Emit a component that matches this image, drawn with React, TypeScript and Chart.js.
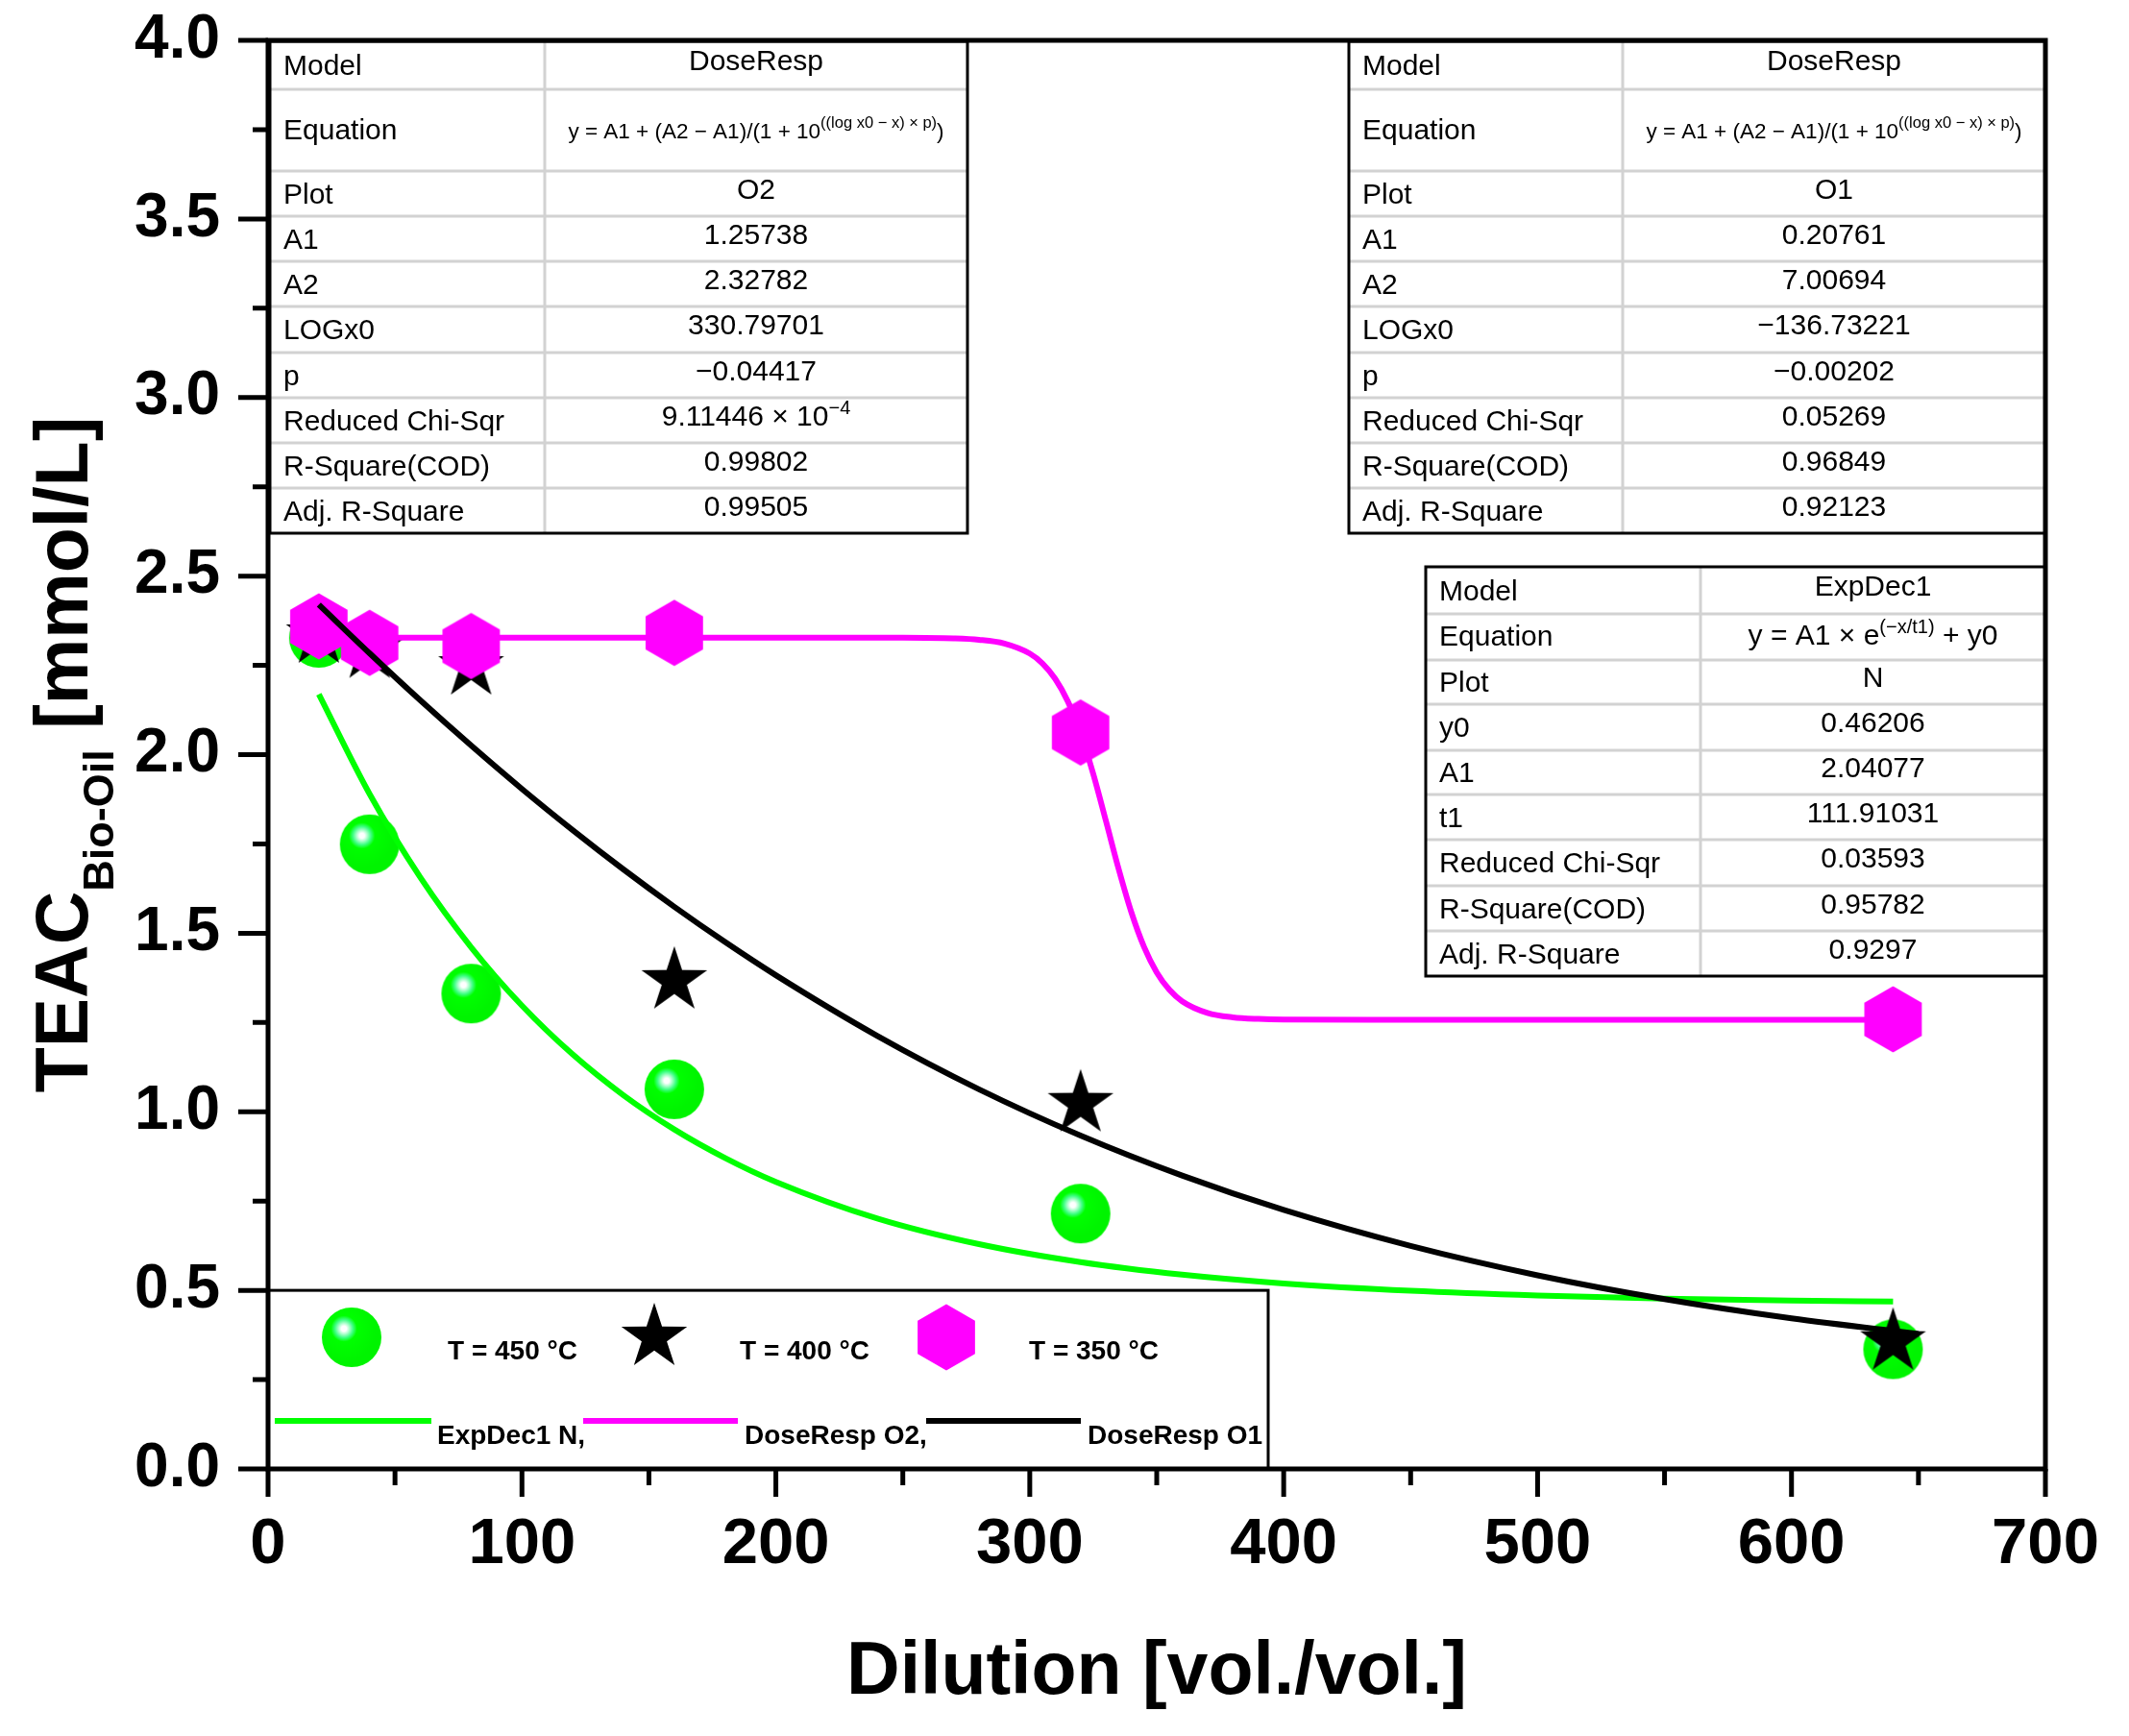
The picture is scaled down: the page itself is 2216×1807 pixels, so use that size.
import React, { useEffect, useRef } from "react";
import { Chart, registerables } from "chart.js";

Chart.register(...registerables);

// ---------- data ----------
const dilution = [20, 40, 80, 160, 320, 640];
const teac450 = [2.327, 1.749, 1.331, 1.063, 0.715, 0.335];
const teac400 = [2.335, 2.293, 2.246, 1.367, 1.023, 0.356];
const teac350 = [2.359, 2.313, 2.304, 2.341, 2.062, 1.259];

// fitted curves (ExpDec1 N, DoseResp O1, DoseResp O2)
const fitNx = [20, 40, 60, 80, 100, 120, 140, 160, 180, 200, 240, 280, 320, 360, 400, 450, 500, 550, 600, 640];
const fitNy = [2.1689, 1.8896, 1.656, 1.4606, 1.2972, 1.1605, 1.0462, 0.9506, 0.8707, 0.8038, 0.7011, 0.6293, 0.579, 0.5439, 0.5193, 0.4987, 0.4855, 0.477, 0.4716, 0.4688];
const fitO1x = [20, 40, 60, 80, 100, 120, 140, 160, 180, 200, 240, 280, 320, 360, 400, 450, 500, 550, 600, 650];
const fitO1y = [2.4199, 2.2837, 2.1518, 2.0254, 1.904, 1.7886, 1.6785, 1.5741, 1.4753, 1.3823, 1.2123, 1.063, 0.9334, 0.8214, 0.7251, 0.6244, 0.5421, 0.4754, 0.4216, 0.3783];
const fitO2x = [20, 100, 200, 250, 270, 280, 290, 300, 305, 310, 315, 320, 325, 330, 335, 340, 345, 350, 355, 360, 370, 380, 390, 400, 450, 500, 550, 600, 640];
const fitO2y = [2.3278, 2.3278, 2.3278, 2.3275, 2.3256, 2.3217, 2.3112, 2.2831, 2.2554, 2.2126, 2.149, 2.06, 1.946, 1.8143, 1.6799, 1.5589, 1.4617, 1.3903, 1.3415, 1.3096, 1.2769, 1.2645, 1.26, 1.2583, 1.2574, 1.2574, 1.2574, 1.2574, 1.2574];

const xTickMin = 0;
const xTickMax = 700;
const yTickMin = 0;
const yTickMax = 4;

const seriesLabels = ["T = 450 °C", "T = 400 °C", "T = 350 °C"];
const fitLabels = ["ExpDec1 N,", "DoseResp O2,", "DoseResp O1"];

// fit report tables
const doseRespLabels = ["Model", "Equation", "Plot", "A1", "A2", "LOGx0", "p", "Reduced Chi-Sqr", "R-Square(COD)", "Adj. R-Square"];
const doseRespEq = "y = A1 + (A2 − A1)/(1 + 10^{((log x0 − x) × p)})";
const tableO2Values = ["DoseResp", doseRespEq, "O2", "1.25738", "2.32782", "330.79701", "−0.04417", "9.11446 × 10^{−4}", "0.99802", "0.99505"];
const tableO1Values = ["DoseResp", doseRespEq, "O1", "0.20761", "7.00694", "−136.73221", "−0.00202", "0.05269", "0.96849", "0.92123"];
const expDecLabels = ["Model", "Equation", "Plot", "y0", "A1", "t1", "Reduced Chi-Sqr", "R-Square(COD)", "Adj. R-Square"];
const tableNValues = ["ExpDec1", "y = A1 × e^{(−x/t1)} + y0", "N", "0.46206", "2.04077", "111.91031", "0.03593", "0.95782", "0.9297"];

const FONT = '"Liberation Sans", Arial, sans-serif';
const GREEN = "#00ff00";
const MAGENTA = "#ff00ff";

// ---------- marker images ----------
function makeBall(): HTMLCanvasElement {
  const c = document.createElement("canvas");
  c.width = 64;
  c.height = 64;
  const g = c.getContext("2d")!;
  const grad = g.createRadialGradient(24, 23, 0, 24, 23, 34);
  grad.addColorStop(0, "#ffffff");
  grad.addColorStop(0.08, "#ffffff");
  grad.addColorStop(0.16, "#b4ffd2");
  grad.addColorStop(0.28, "#3cff82");
  grad.addColorStop(0.4, "#00ff00");
  grad.addColorStop(1, "#00f400");
  g.fillStyle = grad;
  g.beginPath();
  g.arc(32, 32, 31, 0, Math.PI * 2);
  g.fill();
  return c;
}

function makeStar(): HTMLCanvasElement {
  const c = document.createElement("canvas");
  c.width = 76;
  c.height = 76;
  const g = c.getContext("2d")!;
  const R = 36;
  const r = R * 0.382;
  g.fillStyle = "#000";
  g.beginPath();
  for (let i = 0; i < 10; i++) {
    const a = -Math.PI / 2 + (i * Math.PI) / 5;
    const rad = i % 2 === 0 ? R : r;
    const px = 38 + rad * Math.cos(a);
    const py = 38 + rad * Math.sin(a);
    if (i === 0) g.moveTo(px, py);
    else g.lineTo(px, py);
  }
  g.closePath();
  g.fill();
  return c;
}

function makeHex(): HTMLCanvasElement {
  const c = document.createElement("canvas");
  c.width = 64;
  c.height = 72;
  const g = c.getContext("2d")!;
  const R = 34.5;
  g.fillStyle = MAGENTA;
  g.beginPath();
  for (let i = 0; i < 6; i++) {
    const a = -Math.PI / 2 + (i * Math.PI) / 3;
    const px = 32 + R * Math.cos(a);
    const py = 36 + R * Math.sin(a);
    if (i === 0) g.moveTo(px, py);
    else g.lineTo(px, py);
  }
  g.closePath();
  g.fill();
  return c;
}

// ---------- rich text (superscripts) ----------
type Seg = { t: string; sup: boolean };
function parseRich(s: string): Seg[] {
  const out: Seg[] = [];
  let i = 0;
  while (i < s.length) {
    const k = s.indexOf("^{", i);
    if (k < 0) {
      out.push({ t: s.slice(i), sup: false });
      break;
    }
    if (k > i) out.push({ t: s.slice(i, k), sup: false });
    let depth = 1;
    let j = k + 2;
    while (j < s.length && depth > 0) {
      if (s[j] === "{") depth++;
      else if (s[j] === "}") depth--;
      if (depth > 0) j++;
    }
    out.push({ t: s.slice(k + 2, j), sup: true });
    i = j + 1;
  }
  return out;
}

function drawRich(
  ctx: CanvasRenderingContext2D,
  text: string,
  x: number,
  baseline: number,
  size: number,
  supSize: number,
  supRise: number,
  align: "left" | "center"
) {
  const segs = parseRich(text);
  const widths = segs.map((sg) => {
    ctx.font = `${sg.sup ? supSize : size}px ${FONT}`;
    return ctx.measureText(sg.t).width;
  });
  const total = widths.reduce((a, b) => a + b, 0);
  let cx = align === "center" ? x - total / 2 : x;
  ctx.textAlign = "left";
  ctx.textBaseline = "alphabetic";
  segs.forEach((sg, i) => {
    ctx.font = `${sg.sup ? supSize : size}px ${FONT}`;
    ctx.fillText(sg.t, cx, sg.sup ? baseline - supRise : baseline);
    cx += widths[i];
  });
}

type TableGeo = { x0: number; xs: number; x1: number; rows: number[]; eqSize: number; eqSup: number; eqRise: number };

function drawTable(ctx: CanvasRenderingContext2D, geo: TableGeo, labels: string[], values: string[]) {
  const { x0, xs, x1, rows } = geo;
  const top = rows[0];
  const bot = rows[rows.length - 1];
  ctx.save();
  ctx.fillStyle = "#ffffff";
  ctx.fillRect(x0, top, x1 - x0, bot - top);
  ctx.strokeStyle = "#d2d2d2";
  ctx.lineWidth = 3;
  ctx.beginPath();
  for (let i = 1; i < rows.length - 1; i++) {
    ctx.moveTo(x0, rows[i]);
    ctx.lineTo(x1, rows[i]);
  }
  ctx.moveTo(xs, top);
  ctx.lineTo(xs, bot);
  ctx.stroke();
  ctx.strokeStyle = "#000";
  ctx.lineWidth = 3;
  ctx.strokeRect(x0, top, x1 - x0, bot - top);
  ctx.fillStyle = "#000";
  const vc = (xs + x1) / 2;
  for (let i = 0; i < labels.length; i++) {
    const c = (rows[i] + rows[i + 1]) / 2;
    const isEq = labels[i] === "Equation";
    ctx.font = `30px ${FONT}`;
    ctx.textAlign = "left";
    ctx.textBaseline = "alphabetic";
    ctx.fillText(labels[i], x0 + 14, c + (isEq ? 9 : 10));
    if (isEq) {
      drawRich(ctx, values[i], vc, c + 8, geo.eqSize, geo.eqSup, geo.eqRise, "center");
    } else {
      drawRich(ctx, values[i], vc, c + 5, 30, 20, 12, "center");
    }
  }
  ctx.restore();
}

function noPad(s: any) {
  s.paddingTop = 0;
  s.paddingBottom = 0;
  s.paddingLeft = 0;
  s.paddingRight = 0;
}

// ---------- component ----------
export default function App() {
  const ref = useRef<HTMLCanvasElement | null>(null);

  useEffect(() => {
    document.body.style.margin = "0";
    document.body.style.overflow = "hidden";
    const canvas = ref.current;
    if (!canvas) return;
    const ball = makeBall();
    const star = makeStar();
    const hex = makeHex();

    const pts = (xs: number[], ys: number[]) => xs.map((x, i) => ({ x, y: ys[i] }));

    const decor = {
      id: "decor",
      afterDatasetsDraw(chart: any) {
        const ctx: CanvasRenderingContext2D = chart.ctx;
        const { left, right, top, bottom } = chart.chartArea;
        const xs = chart.scales.x;
        const ys = chart.scales.y;
        ctx.save();

        // tables
        const rowsTop = [1, 51, 136, 183, 230, 277, 325, 372, 419, 466, 513].map((d) => top + d);
        drawTable(
          ctx,
          { x0: left + 2, xs: left + 288, x1: left + 728, rows: rowsTop, eqSize: 22.5, eqSup: 16.5, eqRise: 11 },
          doseRespLabels,
          tableO2Values
        );
        drawTable(
          ctx,
          { x0: left + 1125, xs: left + 1410, x1: right, rows: rowsTop, eqSize: 22.5, eqSup: 16.5, eqRise: 11 },
          doseRespLabels,
          tableO1Values
        );
        drawTable(
          ctx,
          { x0: left + 1205, xs: left + 1491, x1: right, rows: [548, 597, 645, 691, 739, 785, 832, 880, 927, 974].map((d) => top + d), eqSize: 30, eqSup: 20, eqRise: 12 },
          expDecLabels,
          tableNValues
        );

        // legend box
        const lTop = ys.getPixelForValue(0.5);
        const lRight = left + 1041;
        ctx.fillStyle = "#fff";
        ctx.fillRect(left, lTop, lRight - left, bottom - lTop);
        ctx.strokeStyle = "#000";
        ctx.lineWidth = 3;
        ctx.strokeRect(left, lTop, lRight - left, bottom - lTop);
        const r1 = bottom - 137;
        const imgs = [ball, star, hex];
        const mx = [left + 87, left + 402, left + 706];
        const tx = [left + 187, left + 491, left + 792];
        ctx.font = `bold 28px ${FONT}`;
        ctx.fillStyle = "#000";
        ctx.textAlign = "left";
        ctx.textBaseline = "alphabetic";
        imgs.forEach((im, i) => {
          ctx.drawImage(im, mx[i] - im.width / 2, r1 - im.height / 2);
          ctx.fillText(seriesLabels[i], tx[i], r1 + 23);
        });
        const r2 = bottom - 50;
        const lineCols = [GREEN, MAGENTA, "#000"];
        const ls = [left + 7, left + 328, left + 685];
        const le = [left + 170, left + 489, left + 846];
        const lt = [left + 176, left + 496, left + 853];
        lineCols.forEach((col, i) => {
          ctx.strokeStyle = col;
          ctx.lineWidth = 6;
          ctx.beginPath();
          ctx.moveTo(ls[i], r2);
          ctx.lineTo(le[i], r2);
          ctx.stroke();
          ctx.fillText(fitLabels[i], lt[i], r2 + 24);
        });

        // frame
        ctx.strokeStyle = "#000";
        ctx.lineWidth = 5;
        ctx.strokeRect(left, top, right - left, bottom - top);

        // ticks
        ctx.lineWidth = 5;
        ctx.beginPath();
        for (let v = xTickMin; v <= xTickMax + 1e-9; v += 50) {
          const px = xs.getPixelForValue(v);
          const len = v % 100 === 0 ? 29 : 17;
          ctx.moveTo(px, bottom);
          ctx.lineTo(px, bottom + len);
        }
        for (let v = yTickMin; v <= yTickMax + 1e-9; v += 0.25) {
          const py = ys.getPixelForValue(v);
          const major = Math.abs(v * 2 - Math.round(v * 2)) < 1e-6;
          const len = major ? 31 : 16;
          ctx.moveTo(left, py);
          ctx.lineTo(left - len, py);
        }
        ctx.stroke();

        // axis titles
        ctx.fillStyle = "#000";
        ctx.font = `bold 77px ${FONT}`;
        ctx.textAlign = "center";
        ctx.fillText("Dilution [vol./vol.]", (left + right) / 2, bottom + 234);

        const cy = (top + bottom) / 2;
        ctx.translate(91, cy);
        ctx.rotate(-Math.PI / 2);
        ctx.textAlign = "left";
        const mainF = `bold 77px ${FONT}`;
        const subF = `bold 45px ${FONT}`;
        ctx.font = mainF;
        const w1 = ctx.measureText("TEAC").width;
        const w3 = ctx.measureText(" [mmol/L]").width;
        ctx.font = subF;
        const w2 = ctx.measureText("Bio-Oil").width;
        let sx = -(w1 + w2 + w3) / 2;
        ctx.font = mainF;
        ctx.fillText("TEAC", sx, 0);
        sx += w1;
        ctx.font = subF;
        ctx.fillText("Bio-Oil", sx, 27);
        sx += w2;
        ctx.font = mainF;
        ctx.fillText(" [mmol/L]", sx, 0);

        ctx.restore();
      },
    };

    const chart = new Chart(canvas, {
      type: "scatter",
      data: {
        datasets: [
          {
            label: "DoseResp O1",
            data: pts(fitO1x, fitO1y),
            showLine: true,
            borderColor: "#000",
            borderWidth: 6,
            pointRadius: 0,
            cubicInterpolationMode: "monotone",
            order: 1,
          },
          {
            label: "DoseResp O2",
            data: pts(fitO2x, fitO2y),
            showLine: true,
            borderColor: MAGENTA,
            borderWidth: 6,
            pointRadius: 0,
            cubicInterpolationMode: "monotone",
            order: 2,
          },
          {
            label: "ExpDec1 N",
            data: pts(fitNx, fitNy),
            showLine: true,
            borderColor: GREEN,
            borderWidth: 6,
            pointRadius: 0,
            cubicInterpolationMode: "monotone",
            order: 3,
          },
          {
            label: seriesLabels[2],
            data: pts(dilution, teac350),
            showLine: false,
            pointStyle: hex as any,
            pointRadius: 32,
            order: 4,
          },
          {
            label: seriesLabels[1],
            data: pts(dilution, teac400),
            showLine: false,
            pointStyle: star as any,
            pointRadius: 34,
            order: 5,
          },
          {
            label: seriesLabels[0],
            data: pts(dilution, teac450),
            showLine: false,
            pointStyle: ball as any,
            pointRadius: 31,
            order: 6,
          },
        ] as any,
      },
      options: {
        responsive: false,
        animation: false,
        devicePixelRatio: 1,
        layout: { padding: { left: 0, top: 42, right: 87, bottom: 0 } },
        plugins: { legend: { display: false }, tooltip: { enabled: false } },
        elements: { line: { borderCapStyle: "butt" } },
        scales: {
          x: {
            type: "linear",
            min: xTickMin,
            max: xTickMax,
            grid: { display: false, drawTicks: false },
            border: { display: false },
            ticks: {
              stepSize: 100,
              padding: 39,
              color: "#000",
              font: { family: FONT, size: 67, weight: "bold" },
              callback: (v: any) => String(v),
            },
            afterFit: (s: any) => {
              s.height = 278;
              noPad(s);
            },
          },
          y: {
            type: "linear",
            min: yTickMin,
            max: yTickMax,
            grid: { display: false, drawTicks: false },
            border: { display: false },
            ticks: {
              stepSize: 0.5,
              padding: 50,
              color: "#000",
              font: { family: FONT, size: 64, weight: "bold" },
              callback: (v: any) => Number(v).toFixed(1),
            },
            afterFit: (s: any) => {
              s.width = 279;
              noPad(s);
            },
          },
        },
      } as any,
      plugins: [decor],
    });

    return () => chart.destroy();
  }, []);

  return (
    <div style={{ width: 2216, height: 1807, background: "#fff" }}>
      <canvas ref={ref} width={2216} height={1807} style={{ display: "block" }} />
    </div>
  );
}
